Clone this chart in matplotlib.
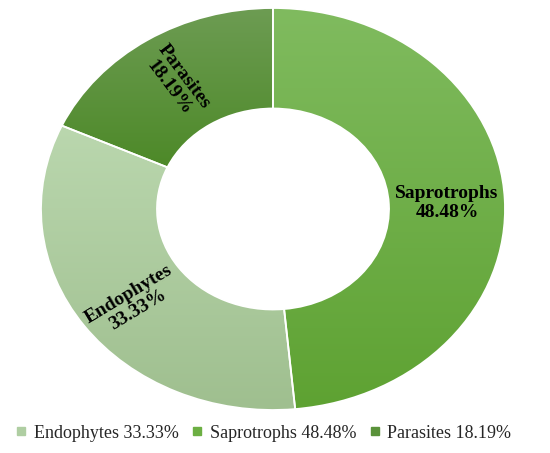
import numpy as np
import matplotlib
matplotlib.use("Agg")
import matplotlib.pyplot as plt
from matplotlib.lines import Line2D
from matplotlib.colors import to_rgb

# ---- data ----
categories = ["Endophytes", "Saprotrophs", "Parasites"]
values = [33.33, 48.48, 18.19]
label_pct = ["33.33%", "48.48%", "18.19%"]

# ---- style ----
top_colors = ["#bad7ae", "#80bb5f", "#6d9c53"]
bottom_colors = ["#9fbf8f", "#5ea232", "#4d8928"]
legend_colors = ["#afcea2", "#6caf43", "#5a923a"]

W, H = 550, 453
fig = plt.figure(figsize=(W / 100, H / 100), dpi=100)
fig.patch.set_facecolor("white")

# pie ellipse in pixels: x 41..505, y 8..410 (from top)
left_px, right_px, top_px, bot_px = 41, 505, 8, 410
ax = fig.add_axes([left_px / W, (H - bot_px) / H,
                   (right_px - left_px) / W, (bot_px - top_px) / H])

wedges, _ = ax.pie(values, radius=1, startangle=155.5, counterclock=True,
                   colors=top_colors,
                   wedgeprops=dict(width=0.5, edgecolor="white", linewidth=0))
ax.set_aspect("auto")
ax.set_xlim(-1, 1)
ax.set_ylim(-1, 1)
ax.axis("off")

# vertical gradients clipped to each wedge
for w, ct, cb in zip(wedges, top_colors, bottom_colors):
    ext = w.get_path().get_extents()
    n = 256
    t = np.linspace(0, 1, n)[:, None]  # 0 bottom -> 1 top
    c0 = np.array(to_rgb(cb)); c1 = np.array(to_rgb(ct))
    grad = (c0[None, :] * (1 - t) + c1[None, :] * t)[:, None, :]
    grad = np.repeat(grad, 2, axis=1)
    im = ax.imshow(grad, extent=(ext.x0, ext.x1, ext.y0, ext.y1),
                   origin="lower", aspect="auto", zorder=2,
                   interpolation="bilinear")
    im.set_clip_path(w)

# white separators
for w in wedges:
    w.set_zorder(3)
    w.set_facecolor("none")
    w.set_edgecolor("white")
    w.set_linewidth(1.3)

ax.set_xlim(-1, 1)
ax.set_ylim(-1, 1)

# labels (positions in data coords of the unit ellipse)
lab_pos = [(-0.603, -0.463, 31), (0.75, 0.03, 0), (-0.414, 0.632, -53)]
for cat, pct, (x, y, rot) in zip(categories, label_pct, lab_pos):
    ax.text(x, y, f"{cat}\n{pct}", ha="center", va="center",
            multialignment="center", rotation=rot, rotation_mode="anchor",
            family="Liberation Serif", fontweight="bold", fontsize=14,
            linespacing=1.15, zorder=5, color="black")

# legend
handles = [Line2D([0], [0], marker="s", linestyle="none", markersize=6,
                  markerfacecolor=c, markeredgecolor=c) for c in legend_colors]
leg_labels = [f"{c} {p}" for c, p in zip(categories, label_pct)]
leg = fig.legend(handles, leg_labels, loc="center",
                 bbox_to_anchor=(264 / W, 1 - 433 / H),
                 ncol=3, frameon=False, handlelength=0.5, handletextpad=0.45,
                 columnspacing=0.78, borderpad=0, borderaxespad=0,
                 prop=dict(family="Liberation Serif", size=13))
for t in leg.get_texts():
    t.set_color("#262626")

fig.savefig("out.png", dpi=100)
